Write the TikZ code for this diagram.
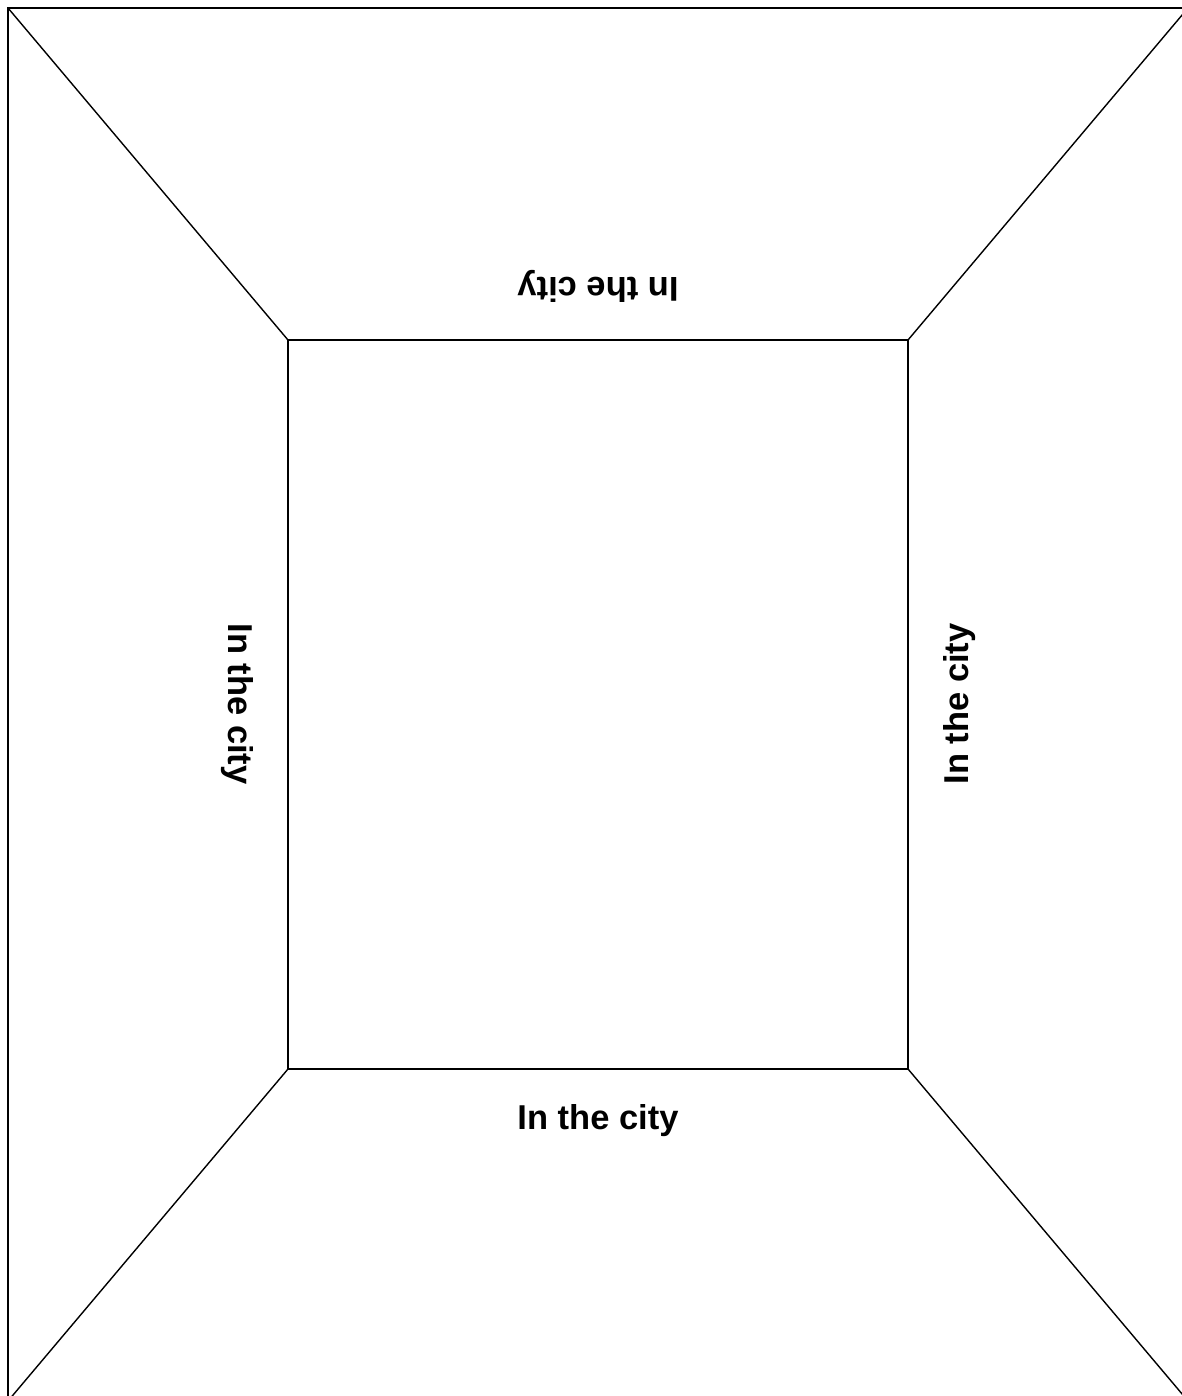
\documentclass[tikz,border=0pt]{standalone}
\usepackage{fontspec}
\setmainfont{Liberation Sans}
\begin{document}
\begin{tikzpicture}[x=1pt,y=-1pt,
  edge/.style={line width=1.4pt,black},
  label/.style={font=\fontsize{34.5}{40}\selectfont\bfseries,inner sep=0pt,anchor=base}]
\useasboundingbox (0,0) rectangle (1182,1396);
\clip (0,0) rectangle (1182,1396);
% outer corners
\coordinate (O1) at (8,8);
\coordinate (O2) at (1188,8);
\coordinate (O3) at (1188,1401);
\coordinate (O4) at (8,1401);
% inner corners
\coordinate (I1) at (288,340);
\coordinate (I2) at (908,340);
\coordinate (I3) at (908,1069);
\coordinate (I4) at (288,1069);
\draw[edge] (O1) -- (O2) -- (O3) -- (O4) -- cycle;
\draw[edge] (I1) -- (I2) -- (I3) -- (I4) -- cycle;
\draw[edge] (O1) -- (I1);
\draw[edge] (O2) -- (I2);
\draw[edge] (O3) -- (I3);
\draw[edge] (O4) -- (I4);
\node[label] (tbot) at (598,1129) {In the city};
\node[label,rotate=180] (ttop) at (598,278) {In the city};
\node[label,rotate=-90] (tleft) at (228,704) {In the city};
\node[label,rotate=90] (tright) at (968,704) {In the city};
\end{tikzpicture}
\end{document}
